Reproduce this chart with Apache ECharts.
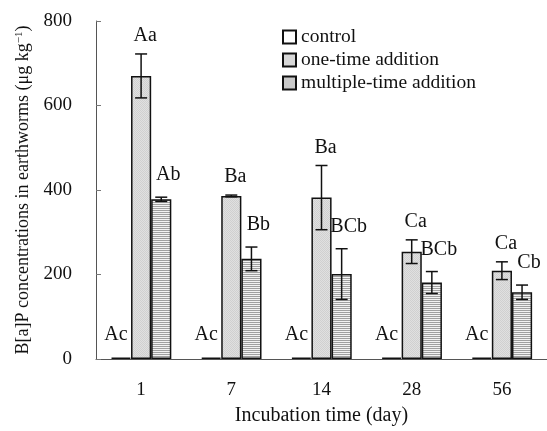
<!DOCTYPE html>
<html>
<head>
<meta charset="utf-8">
<script src="https://cdn.jsdelivr.net/npm/echarts@6/dist/echarts.min.js"></script>
<style>
  html, body { margin: 0; padding: 0; background: #fff; }
  #chart { width: 547px; height: 431px; }
</style>
</head>
<body>
<div id="chart"></div>
<script>
// Incubation days
const categories = ['1', '7', '14', '28', '56'];
const yTicks = [0, 200, 400, 600, 800];

// B[a]P concentration (µg/kg) — means and error (SD)
const controlMean = [3, 3, 3, 3, 3];
const controlErr = [0, 0, 0, 0, 0];
const oneTimeMean = [670, 386, 382, 254, 209];
const oneTimeErr = [52, 2, 76, 28, 21];
const multipleMean = [378, 237, 201, 181, 158];
const multipleErr = [5, 28, 60, 26, 17];

// Significance letters
const controlLetters = ['Ac', 'Ac', 'Ac', 'Ac', 'Ac'];
const oneTimeLetters = ['Aa', 'Ba', 'Ba', 'Ca', 'Ca'];
const multipleLetters = ['Ab', 'Bb', 'BCb', 'BCb', 'Cb'];

const FONT = '"Liberation Serif", "Times New Roman", serif';
const INK = '#111';
const CAT_GAP = 0.33;

// fill patterns
function makePattern(w, h, draw) {
  const c = document.createElement('canvas');
  c.width = w; c.height = h;
  draw(c.getContext('2d'));
  return { image: c, repeat: 'repeat' };
}
const stipple = makePattern(2, 2, ctx => {
  ctx.fillStyle = '#e0e0e0'; ctx.fillRect(0, 0, 2, 2);
  ctx.fillStyle = '#d0d0d0'; ctx.fillRect(0, 0, 1, 1); ctx.fillRect(1, 1, 1, 1);
});
const hStripes = makePattern(4, 2, ctx => {
  ctx.fillStyle = '#f2f2f2'; ctx.fillRect(0, 0, 4, 2);
  ctx.fillStyle = '#a0a0a0'; ctx.fillRect(0, 0, 4, 1);
});

function barSeries(name, values, fill) {
  return {
    name, type: 'bar', data: values,
    barGap: '0%', barCategoryGap: (CAT_GAP * 100) + '%',
    itemStyle: { color: fill, borderColor: INK, borderWidth: 1.5 },
    emphasis: { disabled: true }
  };
}

// error bars and letters, offset = position of bar within its group
function annotSeries(offset, means, errs, letters, dx, dy) {
  return {
    type: 'custom', z: 5, clip: false, silent: true,
    data: means.map((m, i) => [i, m, errs[i], letters[i]]),
    encode: { x: 0, y: 1 },
    renderItem(params, api) {
      const band = api.size([1, 0])[0];
      const bw = band * (1 - CAT_GAP) / 3;
      const idx = api.value(0);
      const mean = api.value(1);
      const err = api.value(2);
      const cx = api.coord([idx, 0])[0] + offset * bw;
      const yTop = api.coord([idx, mean + err])[1];
      const yBot = api.coord([idx, mean - err])[1];
      const cap = 6;
      const st = { stroke: INK, lineWidth: 1.5 };
      const children = [];
      if (err > 0) {
        children.push(
          { type: 'line', shape: { x1: cx, y1: yTop, x2: cx, y2: yBot }, style: st },
          { type: 'line', shape: { x1: cx - cap, y1: yTop, x2: cx + cap, y2: yTop }, style: st },
          { type: 'line', shape: { x1: cx - cap, y1: yBot, x2: cx + cap, y2: yBot }, style: st }
        );
      }
      children.push({
        type: 'text',
        style: {
          x: cx + dx, y: yTop - dy,
          text: letters[params.dataIndex],
          fill: INK, font: '20px ' + FONT,
          align: 'center', verticalAlign: 'middle'
        }
      });
      return { type: 'group', children };
    }
  };
}

const chart = echarts.init(document.getElementById('chart'), null, { renderer: 'canvas' });
chart.setOption({
  animation: false,
  backgroundColor: '#fff',
  textStyle: { fontFamily: FONT, color: INK },
  grid: { left: 96, top: 21, width: 455, height: 343, containLabel: false },
  legend: {
    data: ['control', 'one-time addition', 'multiple-time addition'],
    orient: 'vertical', left: 277, top: 22, padding: 5,
    itemWidth: 13, itemHeight: 13, itemGap: 3,
    icon: 'rect',
    selectedMode: false,
    textStyle: { fontFamily: FONT, fontSize: 19.5, color: INK, padding: [0, 0, 0, 0] }
  },
  xAxis: {
    type: 'category', data: categories,
    name: 'Incubation time (day)', nameLocation: 'middle', nameGap: 47,
    nameTextStyle: { fontFamily: FONT, fontSize: 20, color: INK },
    axisLine: { lineStyle: { color: '#555', width: 1 } },
    axisTick: { inside: true, length: 5, lineStyle: { color: '#777' } },
    axisLabel: { fontFamily: FONT, fontSize: 19, color: INK, margin: 22 }
  },
  yAxis: {
    type: 'value', min: yTicks[0], max: yTicks[yTicks.length - 1], interval: 200,
    name: 'B[a]P concentrations in earthworms (μg kg{sup|−1})',
    nameLocation: 'middle', nameGap: 63,
    nameTextStyle: {
      fontFamily: FONT, fontSize: 18, color: INK,
      rich: { sup: { fontFamily: FONT, fontSize: 11, color: INK, verticalAlign: 'top', padding: [0, 0, 8, 0] } }
    },
    axisLine: { show: true, lineStyle: { color: '#555', width: 1 } },
    axisTick: { show: true, inside: true, length: 5, lineStyle: { color: '#777' } },
    splitLine: { show: false },
    axisLabel: { fontFamily: FONT, fontSize: 19, color: INK, margin: 24, padding: [0, 0, 3, 0] }
  },
  series: [
    barSeries('control', controlMean, '#fff'),
    barSeries('one-time addition', oneTimeMean, stipple),
    barSeries('multiple-time addition', multipleMean, hStripes),
    annotSeries(-1, controlMean, controlErr, controlLetters, -5, 23),
    annotSeries(0, oneTimeMean, oneTimeErr, oneTimeLetters, 4, 18),
    annotSeries(1, multipleMean, multipleErr, multipleLetters, 7, 22)
  ]
});
</script>
</body>
</html>
